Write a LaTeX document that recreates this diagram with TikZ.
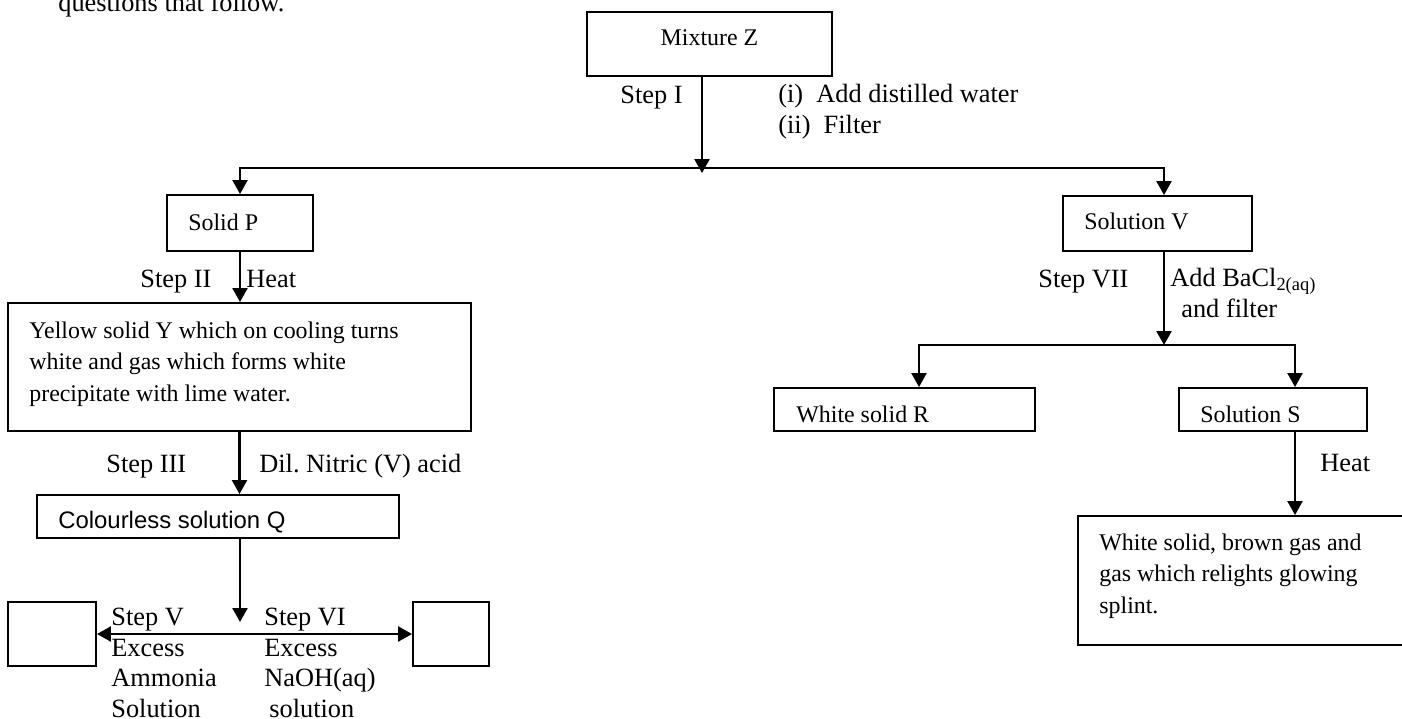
\documentclass[tikz,border=0pt]{standalone}
\usepackage{fontspec}
\setmainfont{Liberation Serif}
\setsansfont{Liberation Sans}
\usetikzlibrary{arrows.meta,fit,calc}

\begin{document}
\begin{tikzpicture}[x=0.02cm,y=-0.02cm,>={Triangle[length=0.28cm,width=0.3cm]},
    box node/.style={draw,rectangle,inner sep=0pt,line width=1.1pt,fit={#1}},
    box text/.style={inner sep=0pt,anchor=base west,align=left,font=\fontsize{13.6}{17.9}\selectfont},
    label node/.style={inner sep=0pt,anchor=base west,align=left,font=\fontsize{15}{17.3}\selectfont},
    link/.style={->,line width=1.3pt}]
    \useasboundingbox (0,0) rectangle (1402,718);

    % boxes
    \node[box node={(587,12) (832,76)}] (mixZ) {};
    \node[box node={(167,195) (313,251)}] (solidP) {};
    \node[box node={(8,303) (471,431)}] (yellow) {};
    \node[box node={(37,495) (399,538)}] (colQ) {};
    \node[box node={(8,602) (96,666)}] (boxV) {};
    \node[box node={(413,602) (489,666)}] (boxVI) {};
    \node[box node={(1063,196) (1252,251)}] (solV) {};
    \node[box node={(774,388) (1035,431)}] (whiteR) {};
    \node[box node={(1179,388) (1367,431)}] (solS) {};
    \node[box node={(1078,516) (1430,645)}] (gases) {};

    % texts in the boxes (multi-line ones sit on their last line)
    \node[box text,anchor=base] (tMixZ) at (709.5,45) {Mixture Z};
    \node[box text] (tSolidP) at (188,230) {Solid P};
    \node[box text] (tYellow) at (29,401) {Yellow solid Y which on cooling turns\\white and gas which forms white\\precipitate with lime water.};
    \node[box text,font=\sffamily\fontsize{13.6}{17.9}\selectfont] (tColQ) at (58,528) {Colourless solution Q};
    \node[box text] (tSolV) at (1084,229) {Solution V};
    \node[box text] (tWhiteR) at (796,422) {White solid R};
    \node[box text] (tSolS) at (1200,422) {Solution S};
    \node[box text] (tGases) at (1099,613) {White solid, brown gas and\\gas which relights glowing\\splint.};

    % labels beside the arrows
    \node[label node] (ques) at (58,11) {questions that follow.};
    \node[label node] (stepI) at (620,103) {Step I};
    \node[label node] (addWater) at (778,133) {(i)\ \ Add distilled water\\(ii)\ \ Filter};
    \node[label node] (stepII) at (140,287) {Step II};
    \node[label node] (heatP) at (246,287) {Heat};
    \node[label node] (stepIII) at (106,472) {Step III};
    \node[label node] (nitric) at (259,472) {Dil.\ Nitric (V) acid};
    \node[label node] (stepV) at (111,717) {Step V\\Excess\\Ammonia\\Solution};
    \node[label node] (stepVI) at (264,717) {Step VI\\Excess\\NaOH(aq)\\\hspace*{0.1cm}solution};
    \node[label node] (stepVII) at (1038,287) {Step VII};
    \node[label node] (bacl) at (1170,317) {Add BaCl\textsubscript{2(aq)}\\\hspace*{0.22cm}and filter};
    \node[label node] (heatS) at (1320,471) {Heat};

    % branch points
    \coordinate (fork1) at (702,168);
    \coordinate (fork2) at (1164,345);
    \coordinate (fork3) at (240,633);
    \coordinate (heatX) at ($(solS.south)+(22,0)$);

    \draw[link] (mixZ.south -| fork1) -- ($(fork1)+(0,5)$);
    \draw[link] (fork1) -| (solidP.north);
    \draw[link] (fork1) -| ($(solV.north)+(6.5,0)$);
    \draw[link] (solidP) -- (solidP |- yellow.north);
    \draw[link] (yellow) -- (yellow |- colQ.north);
    \draw[link] (colQ.south -| fork3) -- ($(fork3)+(0,-11)$);
    \draw[link,<->] (boxV) -- (boxVI);
    \draw[link] (solV.south -| fork2) -- (fork2);
    \draw[link] (fork2) -| ($(whiteR.north)+(14.5,0)$);
    \draw[link] (fork2) -| ($(solS.north)+(22,0)$);
    \draw[link] (heatX) -- (heatX |- gases.north);
\end{tikzpicture}
\end{document}
